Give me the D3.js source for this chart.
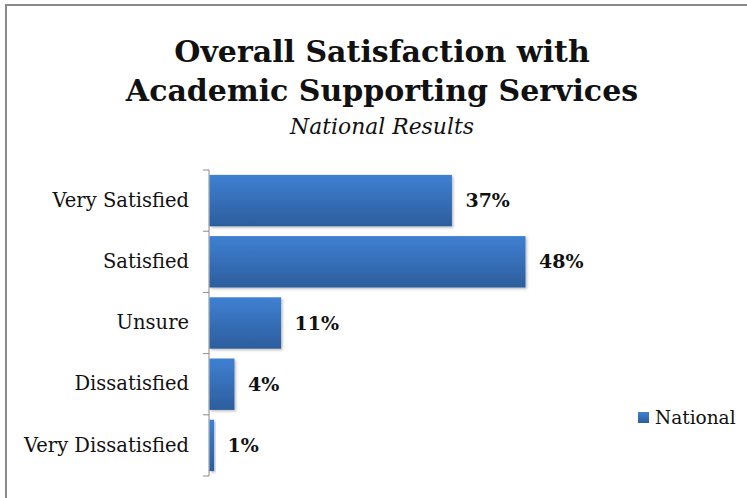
<!DOCTYPE html>
<html>
<head>
<meta charset="utf-8">
<script src="https://cdn.jsdelivr.net/npm/d3@7"></script>
<style>
  body { margin: 0; background: #fff; }
  svg { display: block; }
  text { font-family: "DejaVu Serif", serif; fill: #111; }
</style>
</head>
<body>
<script>
// chart data
var categories = ["Very Satisfied", "Satisfied", "Unsure", "Dissatisfied", "Very Dissatisfied"];
var values = [36.9, 48.1, 10.9, 3.8, 0.7];
var labels = ["37%", "48%", "11%", "4%", "1%"];
var seriesName = "National";
var titleLines = ["Overall Satisfaction with", "Academic Supporting Services"];
var subtitle = "National Results";

var W = 747, H = 498;
var margin = {top: 170, left: 209, bottom: 22};

var svg = d3.select("body").append("svg")
    .attr("width", W)
    .attr("height", H);

// bar gradient
var defs = svg.append("defs");
var grad = defs.append("linearGradient")
    .attr("id", "barGrad")
    .attr("x1", 0).attr("y1", 0).attr("x2", 0).attr("y2", 1);
grad.append("stop").attr("offset", "0%").attr("stop-color", "#3f80d2");
grad.append("stop").attr("offset", "100%").attr("stop-color", "#2c5d9d");

var shadow = defs.append("filter").attr("id", "shadow")
    .attr("x", "-10%").attr("y", "-10%").attr("width", "130%").attr("height", "140%");
shadow.append("feDropShadow")
    .attr("dx", 1.5).attr("dy", 1.5).attr("stdDeviation", 1.2)
    .attr("flood-color", "#000").attr("flood-opacity", 0.25);

// frame
svg.append("path")
    .attr("d", "M6,498 V5 H747")
    .attr("fill", "none")
    .attr("stroke", "#8a8a8a")
    .attr("stroke-width", 2);

// title
var title = svg.append("text")
    .attr("text-anchor", "middle")
    .style("font-weight", "bold")
    .style("font-size", "30px");
title.selectAll("tspan")
    .data(titleLines)
    .enter().append("tspan")
    .attr("x", 382)
    .attr("y", function (d, i) { return 62 + i * 39; })
    .text(function (d) { return d; });

var sub = svg.append("text")
    .attr("x", 382)
    .attr("y", 134)
    .attr("text-anchor", "middle")
    .style("font-style", "italic")
    .style("font-size", "20px")
    .text(subtitle);
// stretch the subtitle to the width it has in the original
var subW = sub.node().getComputedTextLength();
sub.style("font-size", (20 * 184 / subW) + "px");

// scales
var x = d3.scaleLinear()
    .domain([0, 50])
    .range([margin.left, margin.left + 50 * 6.57]);

var y = d3.scaleBand()
    .domain(categories)
    .range([margin.top, H - margin.bottom])
    .paddingInner(0.16)
    .paddingOuter(0.08);

// y axis
var yAxis = d3.axisLeft(y).tickSize(0).tickPadding(20);
var gy = svg.append("g")
    .attr("transform", "translate(" + margin.left + ",0)")
    .call(yAxis);
gy.select(".domain").attr("stroke", "#8a8a8a");
gy.selectAll("text")
    .style("font-family", "DejaVu Serif, serif")
    .style("font-size", "19.5px")
    .attr("fill", "#111");

// tick marks between categories
var tickYs = d3.range(categories.length + 1).map(function (i) {
    return margin.top + i * (H - margin.bottom - margin.top) / categories.length;
});
svg.selectAll(".sep")
    .data(tickYs)
    .enter().append("line")
    .attr("class", "sep")
    .attr("x1", margin.left - 6)
    .attr("x2", margin.left)
    .attr("y1", function (d) { return d; })
    .attr("y2", function (d) { return d; })
    .attr("stroke", "#8a8a8a");
gy.select(".domain").attr("d", "M0," + tickYs[0] + "V" + tickYs[tickYs.length - 1]);

// bars
svg.selectAll(".bar")
    .data(values)
    .enter().append("rect")
    .attr("class", "bar")
    .attr("x", x(0) + 0.5)
    .attr("y", function (d, i) { return y(categories[i]); })
    .attr("width", function (d) { return x(d) - x(0); })
    .attr("height", y.bandwidth())
    .attr("fill", "url(#barGrad)")
    .attr("filter", "url(#shadow)");

// value labels
svg.selectAll(".val")
    .data(values)
    .enter().append("text")
    .attr("class", "val")
    .attr("x", function (d) { return x(d) + 14; })
    .attr("y", function (d, i) { return y(categories[i]) + y.bandwidth() / 2; })
    .attr("dy", "0.35em")
    .style("font-weight", "bold")
    .style("font-size", "19px")
    .text(function (d, i) { return labels[i]; });

// legend
var legend = svg.append("g").attr("transform", "translate(638,412)");
legend.append("rect")
    .attr("width", 11).attr("height", 11)
    .attr("fill", "url(#barGrad)");
legend.append("text")
    .attr("x", 17)
    .attr("y", 5.5)
    .attr("dy", "0.35em")
    .style("font-size", "18.5px")
    .text(seriesName);
</script>
</body>
</html>
